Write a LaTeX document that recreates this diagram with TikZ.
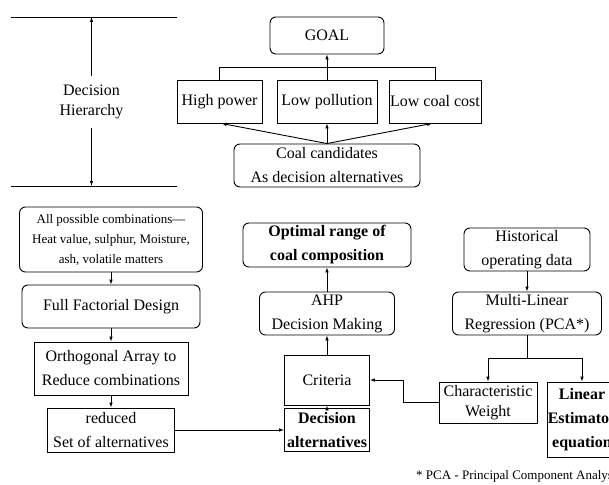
\documentclass[tikz,border=0pt]{standalone}
\usepackage{fontspec}
\setmainfont{Liberation Serif}
\usetikzlibrary{arrows.meta}
\begin{document}
\begin{tikzpicture}[x=1pt,y=-1pt,
  every node/.style={inner sep=0pt, align=center},
  txt/.style={font=\fontsize{16}{24}\selectfont},
  sqbox/.style={txt, draw, line width=0.9pt},
  rbox/.style={sqbox, rounded corners=6pt},
  conn/.style={line width=0.9pt},
  arr/.style={conn, -{Latex[length=5pt,width=3.6pt]}}]
\useasboundingbox (0,0) rectangle (609,484);
\clip (0,0) rectangle (609,484);
% decision hierarchy
\coordinate (t1) at (11,17); \coordinate (t2) at (177,17);
\coordinate (b1) at (11,186); \coordinate (b2) at (177,186);
\draw[conn] (t1) -- (t2);
\draw[conn] (b1) -- (b2);
\node[font=\fontsize{16}{20}\selectfont, minimum height=52] (dh) at (91.5,102) {Decision\\Hierarchy};
\draw[arr] (dh.north) -- (dh.north |- t1);
\draw[arr] (dh.south) -- (dh.south |- b1);
% AHP hierarchy
\node[rbox, minimum width=114, minimum height=37] (goal) at (327,35.5) {GOAL};
\node[sqbox, minimum width=85, minimum height=43] (hp) at (219.5,101.5) {High power};
\node[sqbox, minimum width=100, minimum height=43] (lp) at (327,101.5) {Low pollution};
\node[sqbox, minimum width=92, minimum height=43] (lcc) at (435,101.5) {Low coal cost};
\node[rbox, minimum width=186, minimum height=43] (coal) at (327,165.5) {Coal candidates\\As decision alternatives};
\draw[conn] (hp.north) -- ++(0,-12) -| (lcc.north);
\draw[arr] (lp.north) -- (goal.south);
\draw[arr] (coal.north) -- ([xshift=2pt]hp.south);
\draw[arr] (coal.north) -- (lp.south);
\draw[arr] (coal.north) -- ([xshift=-3pt]lcc.south);
% left column
\node[rbox, font=\fontsize{13}{20}\selectfont, minimum width=183, minimum height=65] (allp) at (111,239.5) {All possible combinations---\\Heat value, sulphur, Moisture,\\ash, volatile matters};
\node[rbox, minimum width=178, minimum height=43] (ffd) at (111,306.5) {Full Factorial Design};
\node[sqbox, minimum width=154, minimum height=53] (oa) at (111,368.5) {Orthogonal Array to\\Reduce combinations};
\node[sqbox, minimum width=127, minimum height=44] (red) at (111,430) {reduced\\Set of alternatives};
\draw[arr] (allp.south) -- (ffd.north);
\draw[arr] (ffd.south) -- (oa.north);
\draw[arr] (oa.south) -- (red.north);
% middle column
\node[rbox, font=\fontsize{16}{24}\selectfont\bfseries, minimum width=168, minimum height=44] (opt) at (327,245) {Optimal range of\\coal composition};
\node[rbox, minimum width=135, minimum height=43] (ahp) at (327,313.5) {AHP\\Decision Making};
\node[sqbox, minimum width=85, minimum height=50] (crit) at (327,380) {Criteria};
\node[sqbox, font=\fontsize{16}{24}\selectfont\bfseries, minimum width=85, minimum height=43] (dec) at (327,430) {Decision\\alternatives};
\draw[arr] (ahp.north) -- (opt.south);
\draw[arr] (crit.north) -- (ahp.south);
\draw[arr] (dec.north) -- (crit.south);
\draw[arr] (red.east) -- (dec.west);
% right column
\node[rbox, minimum width=126, minimum height=43] (hist) at (527,249.5) {Historical\\operating data};
\node[rbox, minimum width=149, minimum height=43] (mlr) at (527,313.5) {Multi-Linear\\Regression (PCA*)};
\node[sqbox, font=\fontsize{16}{20}\selectfont, minimum width=98, minimum height=41] (char) at (488,402.5) {Characteristic\\Weight};
\node[sqbox, font=\fontsize{16}{24}\selectfont\bfseries, minimum width=70, minimum height=75] (lin) at (582,419.5) {Linear\\Estimator\\equation};
\draw[arr] (hist.south) -- (mlr.north);
\draw[conn] (mlr.south) -- ++(0,23) coordinate (j);
\draw[arr] (j) -| (char.north);
\draw[arr] (j) -| (lin.north);
\draw[arr] (char.west) -- ++(-35,0) |- (crit.east);
% footnote
\node[font=\fontsize{13}{15}\selectfont, anchor=west] (fn) at (416,476) {* PCA - Principal Component Analysis};
\end{tikzpicture}
\end{document}
